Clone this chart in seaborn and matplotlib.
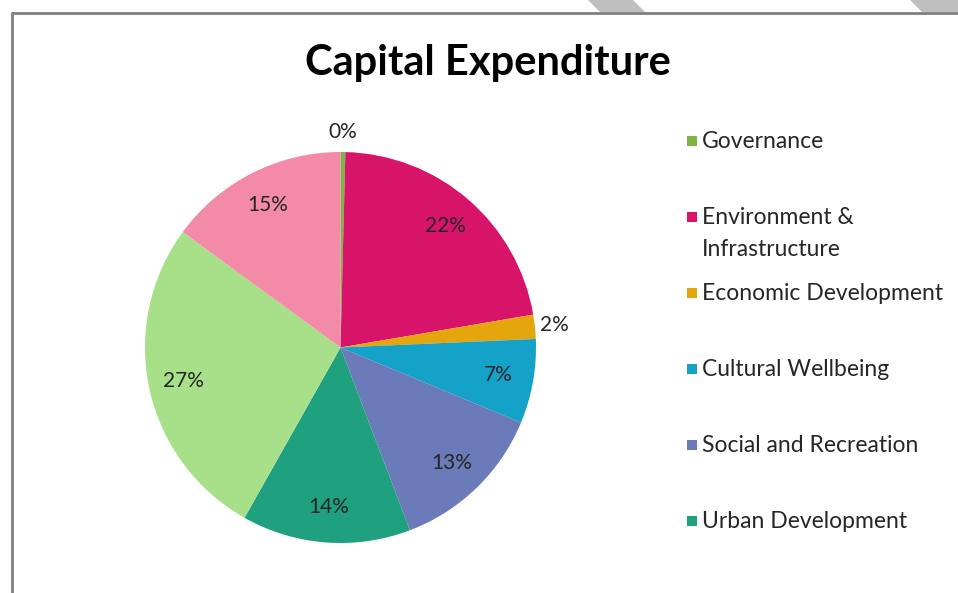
import matplotlib
matplotlib.use("Agg")
import matplotlib.pyplot as plt
import matplotlib.patches as mpatches
import numpy as np
import seaborn as sns

sns.set_theme(style="white")
plt.rcParams["font.family"] = ["Lato", "DejaVu Sans"]

# Capital expenditure share by programme (percent)
categories = [
    "Governance",
    "Environment &\nInfrastructure",
    "Economic Development",
    "Cultural Wellbeing",
    "Social and Recreation",
    "Urban Development",
    "Community Facilities",
    "Parks and Open Space",
]
shares = [0.4, 22, 2, 7, 13, 14, 27, 15]
colors = ["#7DB544", "#D8146A", "#E4A60C", "#14A2C8", "#6B7AB8",
          "#1FA07E", "#A8E08A", "#F28AA8"]
legend_count = 6  # entries that fit in the legend box

W, H = 958, 593
fig = plt.figure(figsize=(W / 100, H / 100), dpi=100)
fig.patch.set_facecolor("white")

# pie axes: centre (340.5, 347.5) px, radius 195.5 px
cx, cy, R = 340.5, 347.5, 195.5
lim = 1.25
side = 2 * lim * R
ax = fig.add_axes([(cx - side / 2) / W, (H - cy - side / 2) / H, side / W, side / H])

wedges, texts, autotexts = ax.pie(
    shares,
    colors=colors,
    startangle=90,
    counterclock=False,
    autopct="%.0f%%",
    pctdistance=0.82,
    textprops=dict(fontsize=15, color="#262626"),
    wedgeprops=dict(linewidth=0),
)
ax.set_xlim(-lim, lim)
ax.set_ylim(-lim, lim)
ax.set_aspect("equal")
ax.axis("off")

# narrow slices get their labels outside the rim
total = sum(shares)
for w, t, v in zip(wedges, autotexts, shares):
    if v / total < 0.05:
        ang = np.deg2rad((w.theta1 + w.theta2) / 2)
        t.set_position((1.10 * np.cos(ang), 1.10 * np.sin(ang)))

# title
fig.text(488 / W, 1 - 63 / H, "Capital Expenditure", ha="center", va="center",
         fontsize=30, fontweight="bold", color="black")

# legend, one slot every 76 px
slot0, step = 141, 76
line_gap = 31
for i in range(legend_count):
    yc = slot0 + i * step
    fig.add_artist(mpatches.Rectangle(((687) / W, 1 - (yc + 5) / H), 10 / W, 10 / H,
                                      transform=fig.transFigure, color=colors[i], lw=0))
    n = categories[i].count("\n") + 1
    fig.text(702 / W, 1 - (yc + 1 + (n - 1) * line_gap / 2) / H, categories[i],
             ha="left", va="center", fontsize=16.5, color="#262626",
             linespacing=1.68)

# frame lines of the chart area
fig.add_artist(plt.Line2D([12 / W, 1], [1 - 13 / H, 1 - 13 / H],
                          transform=fig.transFigure, color="#7F7F7F", lw=2))
fig.add_artist(plt.Line2D([12 / W, 12 / W], [1 - 13 / H, 0],
                          transform=fig.transFigure, color="#7F7F7F", lw=2))

# grey diagonal bands above the frame
for xs in ([588, 633, 645, 600], [910, 958, 958, 922]):
    pts = [(xs[0] / W, 1), (xs[1] / W, 1), (xs[2] / W, 1 - 12 / H), (xs[3] / W, 1 - 12 / H)]
    fig.add_artist(mpatches.Polygon(pts, closed=True, transform=fig.transFigure,
                                    color="#BFBFBF", lw=0))

fig.savefig("out.png", dpi=100, facecolor="white")
